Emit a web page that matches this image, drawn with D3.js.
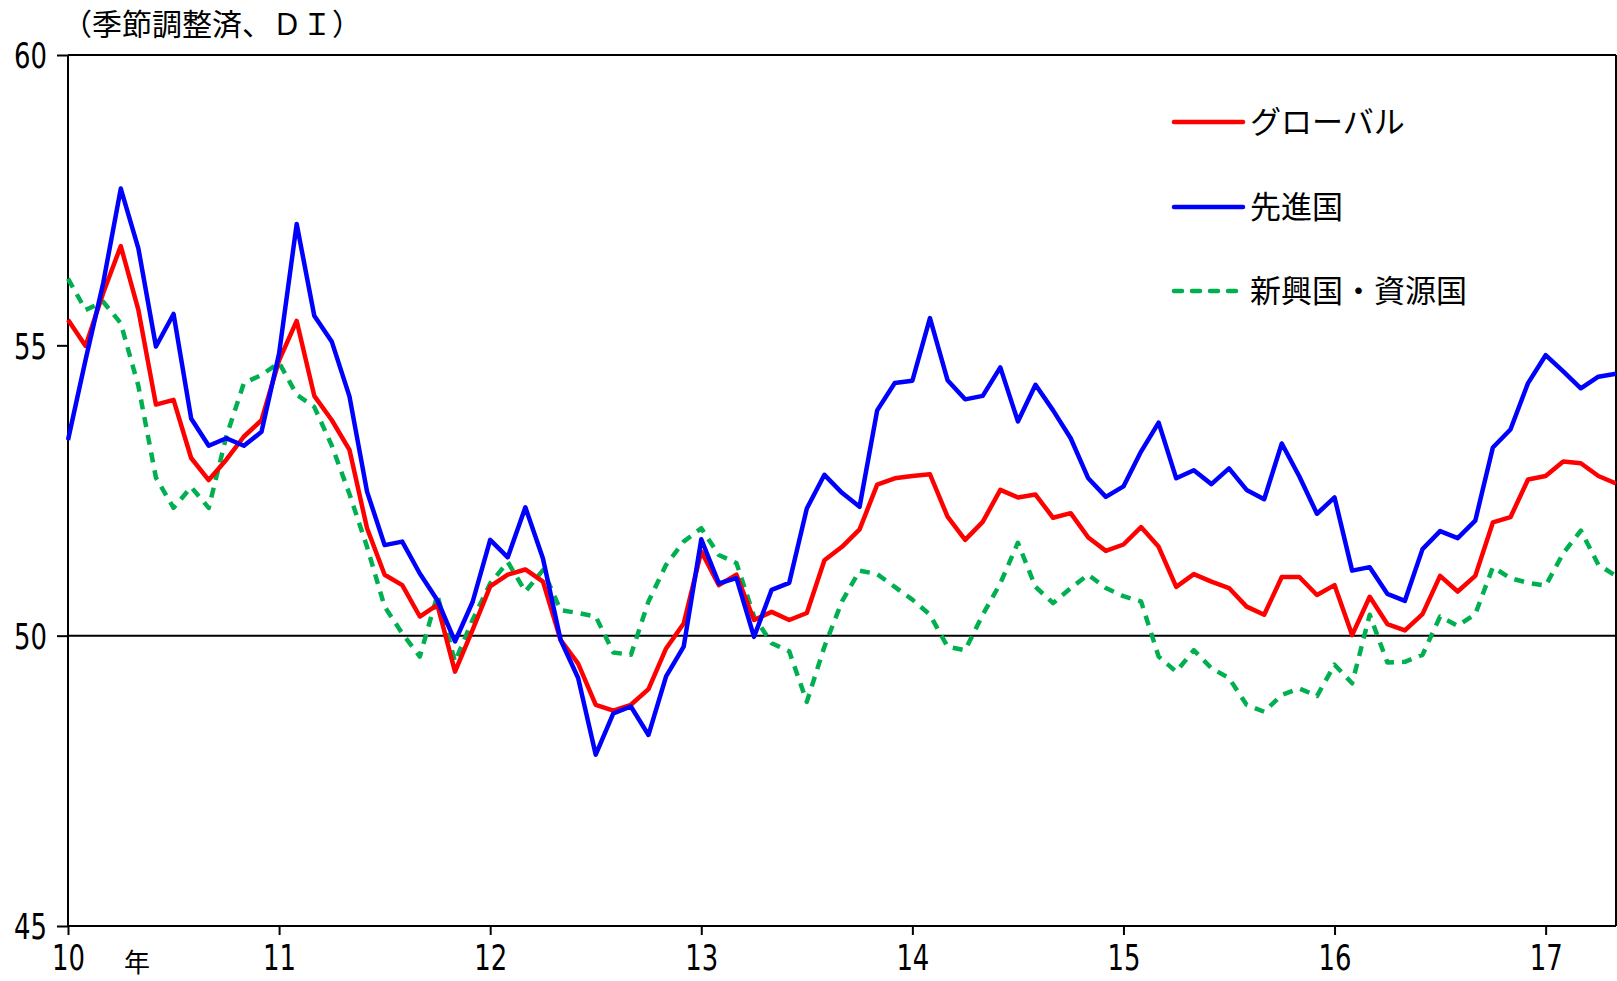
<!DOCTYPE html>
<html>
<head>
<meta charset="utf-8">
<script src="https://cdn.jsdelivr.net/npm/d3@7"></script>
<style>
  body { margin: 0; background: #fff; }
  svg text { font-family: "Noto Sans CJK JP", "Noto Sans", sans-serif; fill: #000; }
</style>
</head>
<body>
<svg id="chart" width="1617" height="981"></svg>
<script>
// monthly, Jan 2010 .. May 2017
var yearLabels = ["10", "11", "12", "13", "14", "15", "16", "17"];
var yTicks = [45, 50, 55, 60];

var globalDI = [
	55.44, 54.99, 55.90, 56.71, 55.61, 53.98, 54.06, 53.06, 52.68, 53.03, 53.43, 53.71,
	54.74, 55.42, 54.13, 53.71, 53.20, 51.85, 51.05, 50.87, 50.33, 50.53, 49.38, 50.10,
	50.85, 51.05, 51.14, 50.93, 49.93, 49.52, 48.81, 48.71, 48.81, 49.08, 49.78, 50.21,
	51.45, 50.87, 51.05, 50.27, 50.41, 50.27, 50.39, 51.30, 51.53, 51.83, 52.60, 52.71,
	52.75, 52.78, 52.05, 51.65, 51.96, 52.51, 52.38, 52.43, 52.03, 52.11, 51.69, 51.46,
	51.57, 51.87, 51.53, 50.84, 51.06, 50.93, 50.82, 50.50, 50.36, 51.01, 51.01, 50.70,
	50.87, 50.01, 50.67, 50.20, 50.09, 50.37, 51.03, 50.76, 51.03, 51.95, 52.04, 52.69,
	52.75, 53.00, 52.97, 52.75, 52.62
];
var advancedDI = [
	53.37, 54.75, 56.07, 57.70, 56.67, 54.98, 55.54, 53.74, 53.27, 53.40, 53.27, 53.51,
	54.86, 57.09, 55.51, 55.06, 54.12, 52.48, 51.56, 51.62, 51.07, 50.61, 49.90, 50.58,
	51.65, 51.35, 52.21, 51.33, 49.93, 49.27, 47.95, 48.66, 48.78, 48.29, 49.30, 49.81,
	51.66, 50.90, 50.99, 49.98, 50.79, 50.91, 52.19, 52.77, 52.46, 52.22, 53.88, 54.35,
	54.39, 55.47, 54.40, 54.07, 54.13, 54.62, 53.69, 54.32, 53.88, 53.40, 52.71, 52.39,
	52.57, 53.17, 53.67, 52.71, 52.85, 52.61, 52.88, 52.51, 52.35, 53.31, 52.74, 52.10,
	52.38, 51.12, 51.18, 50.72, 50.60, 51.49, 51.80, 51.68, 51.98, 53.24, 53.55, 54.35,
	54.83, 54.55, 54.26, 54.46, 54.51
];
var emergingDI = [
	56.15, 55.61, 55.75, 55.38, 54.30, 52.72, 52.20, 52.56, 52.20, 53.43, 54.35, 54.49,
	54.70, 54.15, 53.94, 53.27, 52.44, 51.53, 50.50, 50.04, 49.64, 50.70, 49.55, 50.27,
	50.90, 51.27, 50.76, 51.13, 50.44, 50.39, 50.33, 49.71, 49.67, 50.59, 51.22, 51.62,
	51.85, 51.39, 51.25, 50.33, 49.87, 49.73, 48.86, 49.81, 50.59, 51.12, 51.06, 50.84,
	50.62, 50.36, 49.81, 49.75, 50.36, 50.90, 51.60, 50.84, 50.56, 50.82, 51.05, 50.82,
	50.68, 50.59, 49.64, 49.38, 49.75, 49.44, 49.27, 48.81, 48.69, 48.98, 49.09, 48.96,
	49.50, 49.18, 50.36, 49.54, 49.55, 49.67, 50.33, 50.17, 50.37, 51.18, 50.99, 50.91,
	50.86, 51.42, 51.81, 51.22, 51.03
];

var seriesNames = ["グローバル", "先進国", "新興国・資源国"];
var seriesColors = ["#ff0000", "#0000ff", "#00b050"];

var svg = d3.select("#chart");

var plotLeft = 68, plotRight = 1616, plotTop = 55, plotBottom = 926;

var x = d3.scaleLinear().domain([0, globalDI.length - 1]).range([plotLeft, plotRight]),
		y = d3.scaleLinear().domain([45, 60]).range([plotBottom, plotTop]);

// narrow gothic-like digits: squeeze a regular sans
var numFont = "'DejaVu Sans', 'Noto Sans', sans-serif";
var squeeze = 0.72;

// frame
svg.append("line")
	.attr("x1", plotLeft).attr("x2", plotRight).attr("y1", plotTop).attr("y2", plotTop)
	.attr("stroke", "#000").attr("stroke-width", 2);
svg.append("line")
	.attr("x1", plotRight).attr("x2", plotRight).attr("y1", plotTop).attr("y2", plotBottom)
	.attr("stroke", "#000").attr("stroke-width", 2);

// 50 line
svg.append("line")
	.attr("x1", plotLeft).attr("x2", plotRight).attr("y1", y(50)).attr("y2", y(50))
	.attr("stroke", "#000").attr("stroke-width", 2);

var yAxis = d3.axisLeft(y)
	.tickValues(yTicks)
	.tickSize(11)
	.tickFormat(d3.format("d"));

var gy = svg.append("g")
	.attr("transform", "translate(" + plotLeft + ",0)")
	.call(yAxis);

var xAxis = d3.axisBottom(x)
	.tickValues(yearLabels.map(function(d, i) { return i * 12; }))
	.tickSize(9)
	.tickFormat(function(d, i) { return yearLabels[i]; });

var gx = svg.append("g")
	.attr("transform", "translate(0," + plotBottom + ")")
	.call(xAxis);

[gx, gy].forEach(function(g) {
	g.select(".domain").attr("stroke", "#000").attr("stroke-width", 2);
	g.selectAll(".tick line").attr("stroke", "#000").attr("stroke-width", 2);
	g.selectAll(".tick text")
		.style("font-family", numFont)
		.style("font-size", "36px")
		.attr("fill", "#000")
		.attr("transform", "scale(" + squeeze + ",1)");
});
gy.select(".domain").attr("d", "M0," + plotBottom + "V" + plotTop);
gx.select(".domain").attr("d", "M" + plotLeft + ",0H" + plotRight);
gy.selectAll(".tick text").attr("x", -21 / squeeze).attr("dy", "0.36em");
gx.selectAll(".tick text").attr("y", 44).attr("dy", 0);

svg.append("text")
	.attr("x", 124)
	.attr("y", 972)
	.style("font-size", "26px")
	.text("年");

svg.append("text")
	.attr("x", 62)
	.attr("y", 35)
	.style("font-size", "30px")
	.text("（季節調整済、ＤＩ）");

var line = d3.line()
	.x(function(d, i) { return x(i); })
	.y(function(d) { return y(d); });

var allSeries = [globalDI, advancedDI, emergingDI];

// draw emerging first so blue/red sit on top
[2, 0, 1].forEach(function(k) {
	svg.append("path")
		.datum(allSeries[k])
		.attr("fill", "none")
		.attr("stroke", seriesColors[k])
		.attr("stroke-width", 4.5)
		.attr("stroke-linejoin", "round")
		.attr("stroke-dasharray", k == 2 ? "10,8" : null)
		.attr("d", line);
});

// legend
var legendY = [122, 207, 291];
seriesNames.forEach(function(name, i) {
	svg.append("line")
		.attr("x1", 1174).attr("x2", 1243)
		.attr("y1", legendY[i]).attr("y2", legendY[i])
		.attr("stroke", seriesColors[i])
		.attr("stroke-width", 4.5)
		.attr("stroke-linecap", "round")
		.attr("stroke-dasharray", i == 2 ? "8,10" : null);
	svg.append("text")
		.attr("x", 1250)
		.attr("y", legendY[i])
		.attr("dy", "0.36em")
		.style("font-size", "31px")
		.text(name);
});
</script>
</body>
</html>
